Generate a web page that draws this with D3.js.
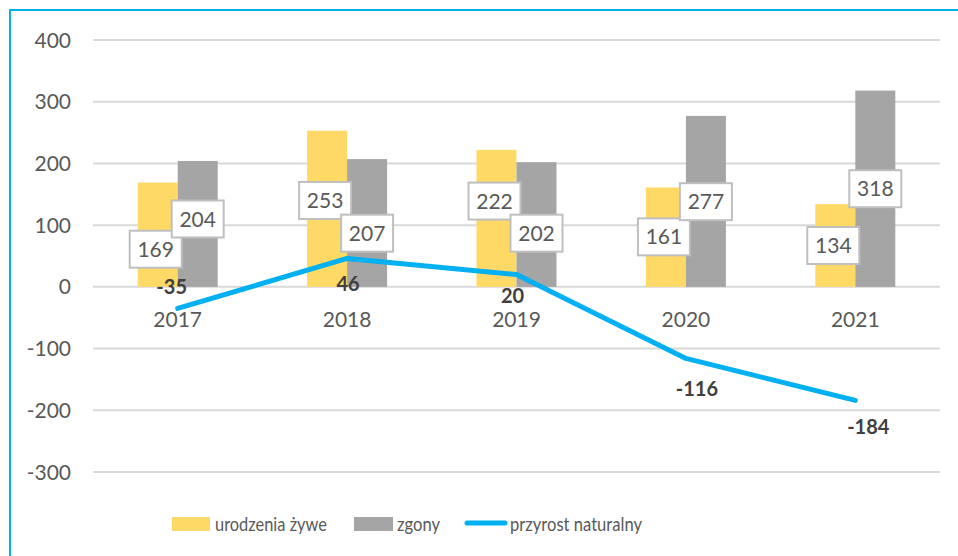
<!DOCTYPE html>
<html lang="pl">
<head>
<meta charset="utf-8">
<title>Urodzenia, zgony, przyrost naturalny</title>
<style>
body { margin: 0; background: #fff; }
text { font-family: Lato, "Open Sans", sans-serif; }
</style>
<script src="https://cdn.jsdelivr.net/npm/d3@7"></script>
</head>
<body>
<script>
// data
var years = ["2017", "2018", "2019", "2020", "2021"];
var births = [169, 253, 222, 161, 134];
var deaths = [204, 207, 202, 277, 318];
var growth = [-35, 46, 20, -116, -184];
var yTicks = [-300, -200, -100, 0, 100, 200, 300, 400];
var legendNames = ["urodzenia żywe", "zgony", "przyrost naturalny"];

// hand-placed label anchors (in value units) as in the original
var birthLabelAt = [61, 140, 139, 81, 67];
var deathLabelAt = [110, 87, 87, 138, 159];
// nudges (px) for the line labels
var growthDx = [-6, 1, -4, 11, 13];
var growthDy = [-22, 25, 21, 30, 26];

var width = 958, height = 556;
var svg = d3.select("body").append("svg")
    .attr("width", width)
    .attr("height", height);

// frame: only top & left edges visible
svg.append("rect")
    .attr("x", 10).attr("y", 10)
    .attr("width", 1000).attr("height", 600)
    .attr("fill", "none")
    .attr("stroke", "#00b0f0")
    .attr("stroke-width", 2);

var x = d3.scaleBand().domain(years).range([93, 940]).paddingInner(0).paddingOuter(0);
var y = d3.scaleLinear().domain([-300, 400]).range([472, 40]);
var barW = 40;

// gridlines
svg.append("g").selectAll("line")
    .data(yTicks).enter().append("line")
    .attr("x1", 93).attr("x2", 940)
    .attr("y1", function(d) { return y(d); })
    .attr("y2", function(d) { return y(d); })
    .attr("stroke", "#d9d9d9")
    .attr("stroke-width", 2);

// y tick labels
svg.append("g").selectAll("text")
    .data(yTicks).enter().append("text")
    .attr("x", 71)
    .attr("y", function(d) { return y(d); })
    .attr("dy", "0.36em")
    .attr("text-anchor", "end")
    .attr("fill", "#595959")
    .style("font-size", "21px")
    .text(function(d) { return d; });

// x category labels
svg.append("g").selectAll("text")
    .data(years).enter().append("text")
    .attr("x", function(d) { return x(d) + x.bandwidth() / 2; })
    .attr("y", 319)
    .attr("dy", "0.36em")
    .attr("text-anchor", "middle")
    .attr("fill", "#595959")
    .style("font-size", "21px")
    .text(function(d) { return d; });

function cx(i) { return x(years[i]) + x.bandwidth() / 2; }

// bars
svg.append("g").selectAll("rect")
    .data(births).enter().append("rect")
    .attr("x", function(d, i) { return cx(i) - barW; })
    .attr("y", function(d) { return y(d); })
    .attr("width", barW)
    .attr("height", function(d) { return y(0) - y(d); })
    .attr("fill", "#ffd966");

svg.append("g").selectAll("rect")
    .data(deaths).enter().append("rect")
    .attr("x", function(d, i) { return cx(i); })
    .attr("y", function(d) { return y(d); })
    .attr("width", barW)
    .attr("height", function(d) { return y(0) - y(d); })
    .attr("fill", "#a5a5a5");

// boxed value labels
function boxLabels(vals, at, dx) {
    var g = svg.append("g").selectAll("g")
        .data(vals).enter().append("g")
        .attr("transform", function(d, i) {
            return "translate(" + (cx(i) + dx) + "," + y(at[i]) + ")";
        });
    g.append("rect")
        .attr("x", -26).attr("y", -18.5)
        .attr("width", 52).attr("height", 37)
        .attr("fill", "#fff")
        .attr("stroke", "#bfbfbf")
        .attr("stroke-width", 2);
    g.append("text")
        .attr("text-anchor", "middle")
        .attr("dy", "0.36em")
        .attr("fill", "#595959")
        .style("font-size", "21px")
        .text(function(d) { return d; });
}
boxLabels(births, birthLabelAt, -22);
boxLabels(deaths, deathLabelAt, 20);

// line
var line = d3.line()
    .x(function(d, i) { return cx(i); })
    .y(function(d) { return y(d); });
svg.append("path")
    .datum(growth)
    .attr("d", line)
    .attr("fill", "none")
    .attr("stroke", "#00b0f0")
    .attr("stroke-width", 5)
    .attr("stroke-linecap", "round")
    .attr("stroke-linejoin", "round");

svg.append("g").selectAll("text")
    .data(growth).enter().append("text")
    .attr("x", function(d, i) { return cx(i) + growthDx[i]; })
    .attr("y", function(d, i) { return y(d) + growthDy[i]; })
    .attr("dy", "0.36em")
    .attr("text-anchor", "middle")
    .attr("fill", "#404040")
    .style("font-size", "20px")
    .style("font-weight", "bold")
    .text(function(d) { return d; });

// legend
var legend = svg.append("g");
var lx = [172, 354, 467], tx = [215, 397, 510], tw = [112, 43, 132];
legend.append("rect").attr("x", lx[0]).attr("y", 517).attr("width", 38).attr("height", 14).attr("fill", "#ffd966");
legend.append("rect").attr("x", lx[1]).attr("y", 517).attr("width", 39).attr("height", 14).attr("fill", "#a5a5a5");
legend.append("line").attr("x1", lx[2]).attr("x2", lx[2] + 38).attr("y1", 523).attr("y2", 523)
    .attr("stroke", "#00b0f0").attr("stroke-width", 5).attr("stroke-linecap", "round");
legend.selectAll("text")
    .data(legendNames).enter().append("text")
    .attr("x", function(d, i) { return tx[i]; })
    .attr("y", 524)
    .attr("dy", "0.36em")
    .attr("fill", "#595959")
    .attr("textLength", function(d, i) { return tw[i]; })
    .attr("lengthAdjust", "spacingAndGlyphs")
    .style("font-size", "20px")
    .text(function(d) { return d; });
</script>
</body>
</html>
